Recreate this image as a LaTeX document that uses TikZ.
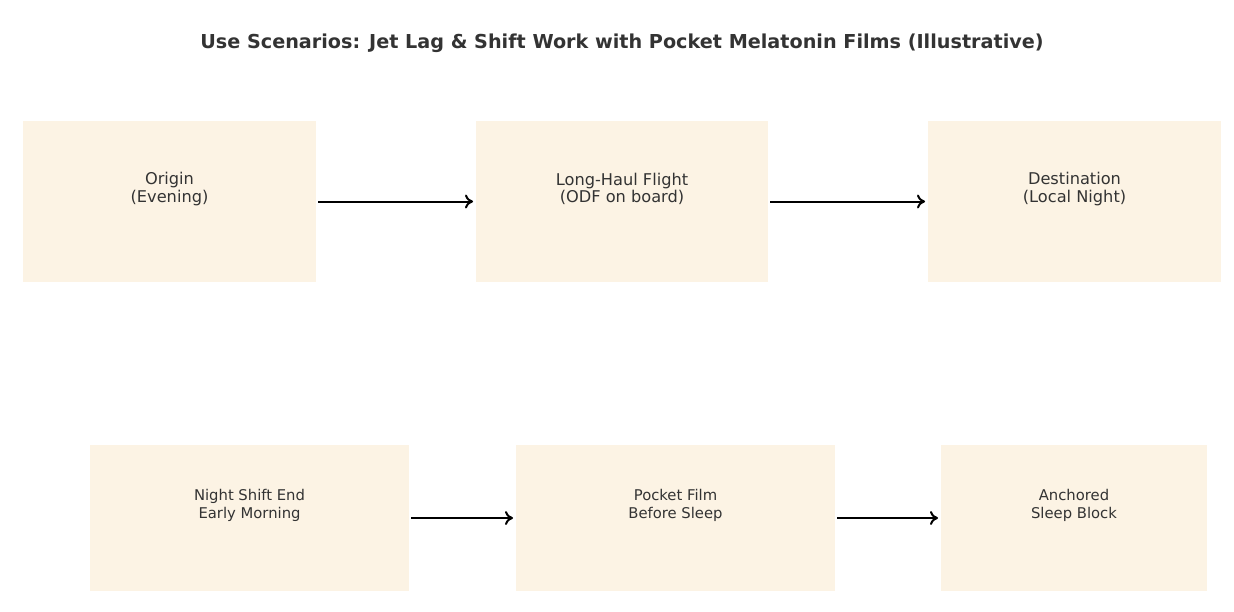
\documentclass[tikz,border=0pt]{standalone}
\usepackage{fontspec}
\setmainfont{DejaVu Sans}
\usetikzlibrary{arrows.meta}
\definecolor{boxfill}{HTML}{FCF3E4}
\definecolor{txt}{HTML}{333333}
\begin{document}
\begin{tikzpicture}[x=1pt,y=-1pt,
  box/.style={fill=boxfill,draw=none,inner sep=0pt,outer sep=0pt},
  bigtxt/.style={text=txt,font=\fontsize{16.2}{17.5}\selectfont,align=center},
  smalltxt/.style={text=txt,font=\fontsize{14.8}{18}\selectfont,align=center},
  conn/.style={-{To[length=8pt,width=14pt,line width=2pt]},line width=2pt,black,shorten <=2pt,shorten >=3pt}]
\useasboundingbox (0,0) rectangle (1234,611);
\node[text=txt,font=\bfseries\fontsize{19.2}{22}\selectfont] (title) at (622,43) {Use Scenarios: Jet Lag \& Shift Work with Pocket Melatonin Films (Illustrative)};
% top row
\node[box,minimum width=293pt,minimum height=161pt] (o) at (169.5,201.5) {};
\node[box,minimum width=292pt,minimum height=161pt] (f) at (622,201.5) {};
\node[box,minimum width=293pt,minimum height=161pt] (d) at (1074.5,201.5) {};
\node[bigtxt] (ot) at (169.5,189) {Origin\\(Evening)};
\node[bigtxt] (ft) at (622,189) {Long-Haul Flight\\(ODF on board)};
\node[bigtxt] (dt) at (1074.5,189) {Destination\\(Local Night)};
% bottom row
\node[box,minimum width=319pt,minimum height=146pt] (n) at (249.5,518) {};
\node[box,minimum width=319pt,minimum height=146pt] (p) at (675.5,518) {};
\node[box,minimum width=266pt,minimum height=146pt] (a) at (1074,518) {};
\node[smalltxt] (nt) at (249.5,505.5) {Night Shift End\\Early Morning};
\node[smalltxt] (pt) at (675.5,505.5) {Pocket Film\\Before Sleep};
\node[smalltxt] (at) at (1074,505.5) {Anchored\\Sleep Block};
% arrows
\draw[conn] (o.east) -- (f.west);
\draw[conn] (f.east) -- (d.west);
\draw[conn] (n.east) -- (p.west);
\draw[conn] (p.east) -- (a.west);
\end{tikzpicture}
\end{document}
